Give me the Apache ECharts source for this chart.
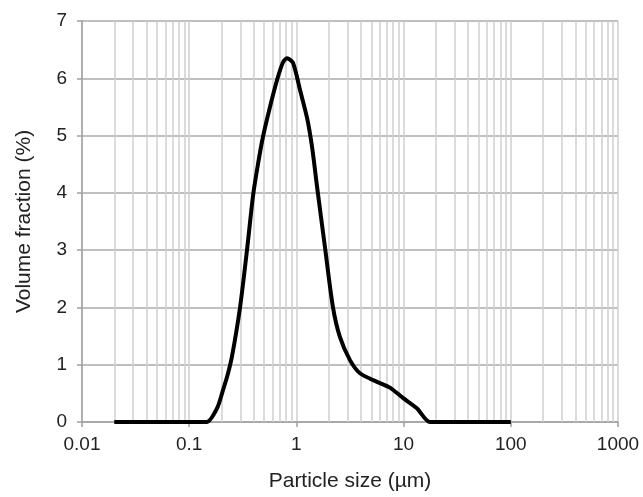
<!DOCTYPE html>
<html>
<head>
<meta charset="utf-8">
<script src="https://cdn.jsdelivr.net/npm/echarts@6/dist/echarts.min.js"></script>
<style>html,body{margin:0;padding:0;background:#fff}#c{width:643px;height:497px}</style>
</head>
<body>
<div id="c"></div>
<script>
const sizes = [0.02, 0.05, 0.1, 0.146, 0.182, 0.207, 0.228, 0.251, 0.298, 0.346, 0.394, 0.438, 0.488, 0.567, 0.66, 0.75, 0.817, 0.929, 1.08, 1.26, 1.40, 1.56, 1.85, 2.19, 2.55, 3.16, 3.92, 5.65, 7.46, 9.86, 13.3, 17.6, 30, 60, 100];
const volume = [0, 0, 0, 0, 0.24, 0.56, 0.82, 1.15, 2.0, 3.0, 3.95, 4.5, 4.98, 5.5, 5.97, 6.28, 6.35, 6.27, 5.8, 5.3, 4.8, 4.1, 3.04, 2.01, 1.48, 1.08, 0.85, 0.70, 0.6, 0.42, 0.24, 0, 0, 0, 0];
const xTickLabels = ['0.01', '0.1', '1', '10', '100', '1000'];
const yTicks = [0, 1, 2, 3, 4, 5, 6, 7];
const decades = [0.01, 0.1, 1, 10, 100];
const minorMultipliers = [2, 3, 4, 5, 6, 7, 8, 9];

const minorLines = [];
decades.forEach(d => minorMultipliers.forEach(m => minorLines.push({ xAxis: +(d * m).toPrecision(3) })));

const chart = echarts.init(document.getElementById('c'), null, { renderer: 'canvas' });
const font = 'Liberation Sans, Arial, sans-serif';
chart.setOption({
  animation: false,
  grid: { left: 82, right: 25, top: 21, bottom: 75, containLabel: false },
  xAxis: {
    type: 'log', logBase: 10, min: 0.01, max: 1000,
    name: 'Particle size (µm)', nameLocation: 'middle', nameGap: 49,
    nameTextStyle: { fontFamily: font, fontSize: 21, color: '#222' },
    axisLine: { lineStyle: { color: '#a0a0a0', width: 1.5 } },
    axisTick: { show: true, length: 5, lineStyle: { color: '#a0a0a0', width: 1.5 } },
    axisLabel: {
      fontFamily: font, fontSize: 19, color: '#222', margin: 13,
      formatter: v => { const s = xTickLabels.find(t => Math.abs(parseFloat(t) - v) < v * 1e-6); return s || ''; }
    },
    splitLine: { show: true, lineStyle: { color: '#cfcfcf', width: 1.5 } }
  },
  yAxis: {
    type: 'value', min: 0, max: 7, interval: 1,
    name: 'Volume fraction (%)', nameLocation: 'middle', nameGap: 47,
    nameTextStyle: { fontFamily: font, fontSize: 21, color: '#222' },
    axisLine: { show: true, lineStyle: { color: '#a0a0a0', width: 1.5 } },
    axisTick: { show: true, length: 5, lineStyle: { color: '#a0a0a0', width: 1.5 } },
    axisLabel: { fontFamily: font, fontSize: 19, color: '#222', margin: 15,
      formatter: v => yTicks.includes(v) ? String(v) : '' },
    splitLine: { show: true, lineStyle: { color: '#ababab', width: 1.5 } }
  },
  series: [{
    type: 'line',
    data: sizes.map((s, i) => [s, volume[i]]),
    smooth: 0.25,
    symbol: 'none',
    lineStyle: { color: '#000', width: 4 },
    z: 5,
    markLine: {
      silent: true, symbol: 'none', animation: false,
      label: { show: false },
      lineStyle: { color: '#cfcfcf', width: 1.5, type: 'solid' },
      data: minorLines,
      z: 1
    }
  }]
});
</script>
</body>
</html>
